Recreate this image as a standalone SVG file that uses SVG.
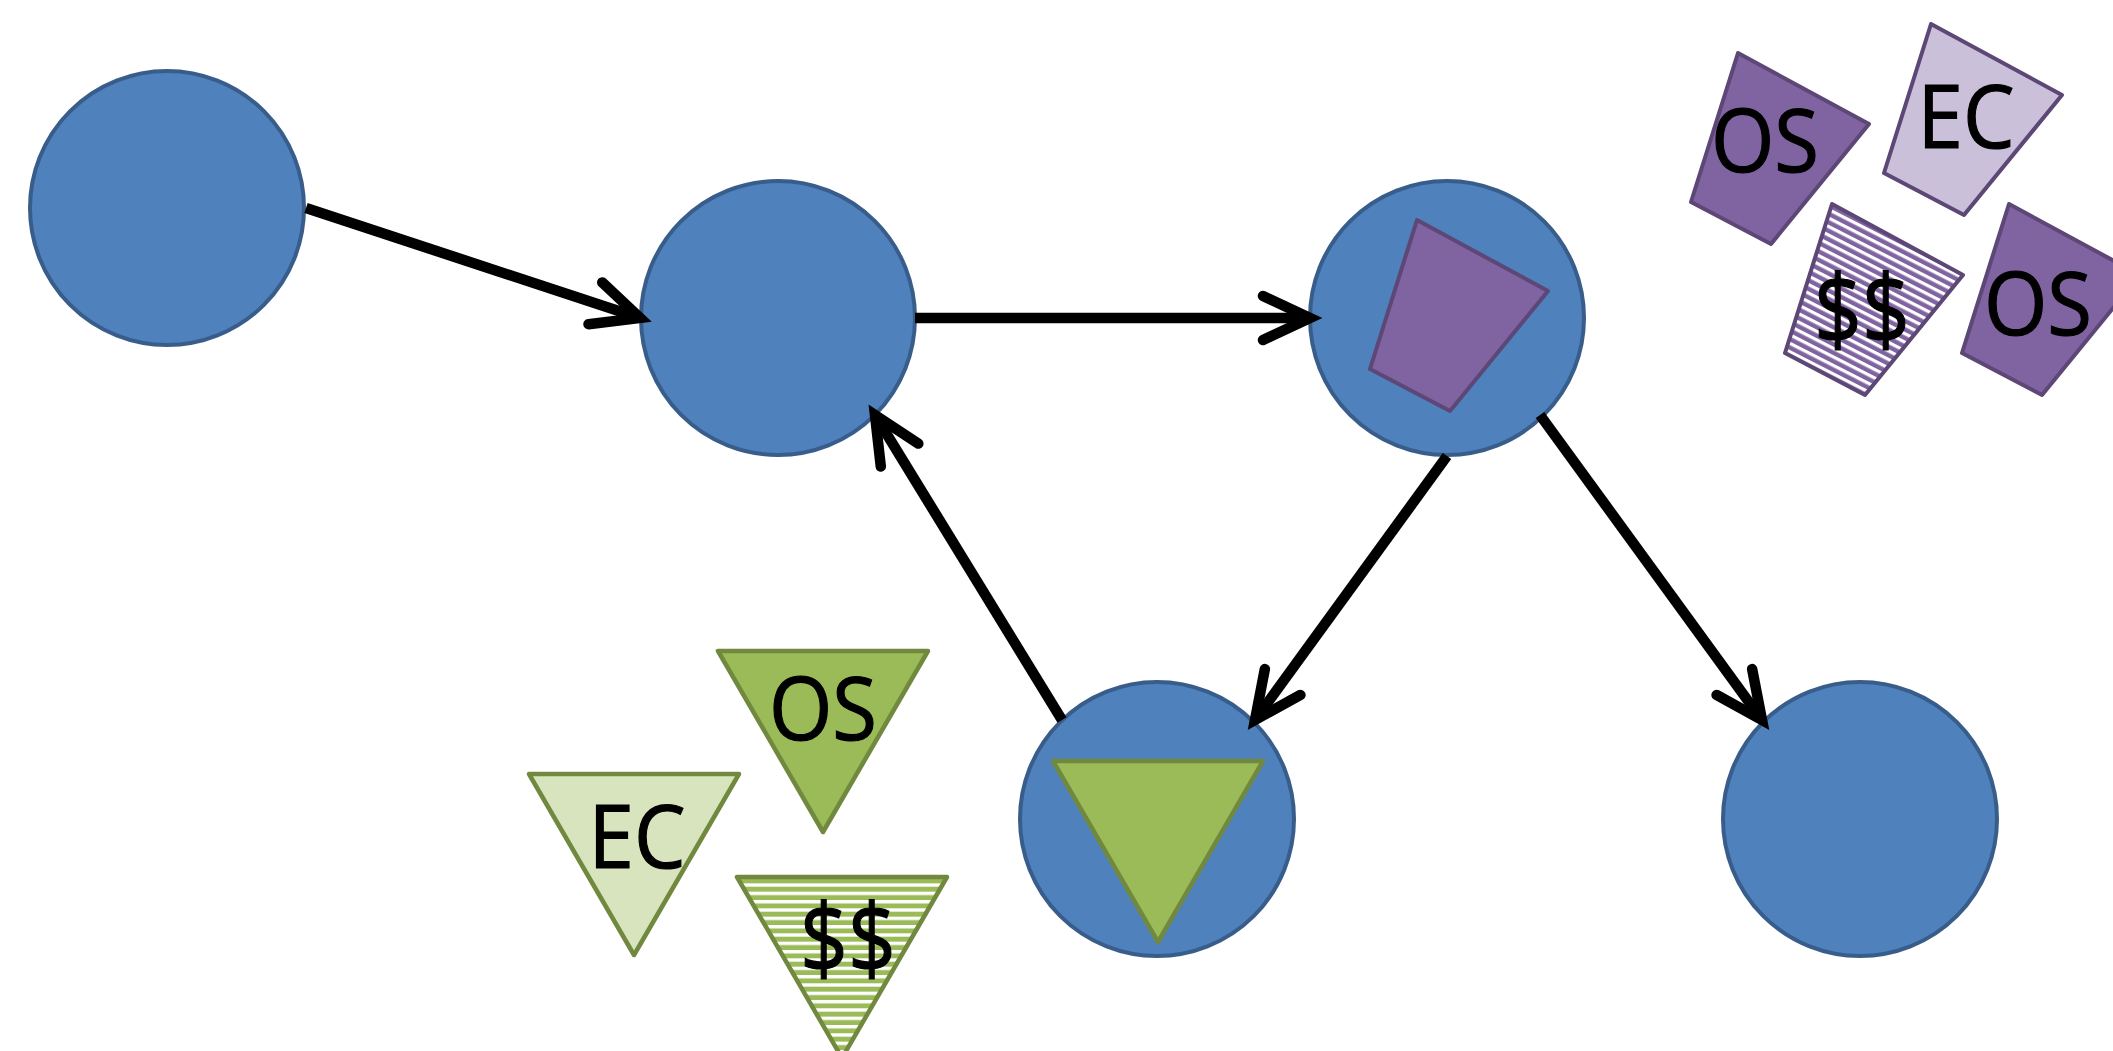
<svg xmlns="http://www.w3.org/2000/svg" xmlns:xlink="http://www.w3.org/1999/xlink" width="2113" height="1051" viewBox="0 0 2113 1051">
  <style>
    .state { fill: #4F81BD; stroke: #385D8A; stroke-width: 4; }
    .quad { stroke: #5C4776; stroke-width: 4; stroke-linejoin: round; }
    .q-dark { fill: #8064A2; }
    .q-light { fill: #CBC0D9; }
    .q-stripe { fill: url(#stripesPurple); }
    .tri { stroke: #71893F; stroke-width: 4.5; stroke-linejoin: round; }
    .t-dark { fill: #9BBB59; }
    .t-light { fill: #D7E4BD; }
    .t-stripe { fill: url(#stripesGreen); }
    .label { font-family: "Open Sans", "Liberation Sans", sans-serif; font-size: 88px; fill: #000; stroke: #000; stroke-width: 1.2; text-anchor: middle; }
    .cost { font-size: 97px; }
    .edge { fill: none; stroke: #000; stroke-width: 10.5; marker-end: url(#openArrow); }
  </style>
  <defs>
    <!-- open chevron arrowhead -->
    <marker id="openArrow" markerUnits="userSpaceOnUse" orient="auto" refX="0" refY="0" markerWidth="1" markerHeight="1" overflow="visible">
      <path d="M -47 -22 L 0 0 L -47 22" fill="none" stroke="#000" stroke-width="10.5" stroke-linecap="round" stroke-linejoin="miter" stroke-miterlimit="10"/>
    </marker>
    <!-- narrow horizontal stripe fills -->
    <pattern id="stripesGreen" patternUnits="userSpaceOnUse" x="0" y="881" width="20" height="8.33">
      <rect x="0" y="0" width="20" height="8.33" fill="#9BBB59"/>
      <rect x="0" y="0" width="20" height="3.4" fill="#FFFFFF"/>
    </pattern>
    <pattern id="stripesPurple" patternUnits="userSpaceOnUse" width="20" height="7.6" patternTransform="rotate(27 1832 204)">
      <rect x="0" y="0" width="20" height="7.6" fill="#8064A2"/>
      <rect x="0" y="0" width="20" height="3.2" fill="#FFFFFF"/>
    </pattern>
    <!-- shared outlines, positioned by x/y on each use -->
    <polygon id="quadShape" points="0,0 131,71 33,191 -47,149"/>
    <polygon id="triShape" points="0,0 210,0 105,181"/>
  </defs>

  <!-- state circles -->
  <g id="node-a"><circle class="state" cx="167" cy="208" r="137"/></g>
  <g id="node-b"><circle class="state" cx="778" cy="318" r="137"/></g>
  <g id="node-c">
    <circle class="state" cx="1447" cy="318" r="137"/>
    <use xlink:href="#quadShape" class="quad q-dark" x="1417" y="220"/>
  </g>
  <g id="node-d">
    <circle class="state" cx="1157" cy="819" r="137"/>
    <use xlink:href="#triShape" class="tri t-dark" x="1053" y="761"/>
  </g>
  <g id="node-e"><circle class="state" cx="1860" cy="819" r="137"/></g>

  <!-- purple tokens -->
  <g id="token-purple-os-1">
    <use xlink:href="#quadShape" class="quad q-dark" x="1738" y="53"/>
    <text class="label" x="1765" y="172" textLength="108" lengthAdjust="spacingAndGlyphs">OS</text>
  </g>
  <g id="token-purple-ec">
    <use xlink:href="#quadShape" class="quad q-light" x="1931" y="24"/>
    <text class="label" x="1966" y="148" textLength="97" lengthAdjust="spacingAndGlyphs">EC</text>
  </g>
  <g id="token-purple-cost">
    <use xlink:href="#quadShape" class="quad q-stripe" x="1832" y="204"/>
    <text class="label cost" x="1862" y="344" textLength="96" lengthAdjust="spacingAndGlyphs">$$</text>
  </g>
  <g id="token-purple-os-2">
    <use xlink:href="#quadShape" class="quad q-dark" x="2009" y="204"/>
    <text class="label" x="2038" y="335" textLength="108" lengthAdjust="spacingAndGlyphs">OS</text>
  </g>

  <!-- green tokens -->
  <g id="token-green-os">
    <use xlink:href="#triShape" class="tri t-dark" x="718" y="651"/>
    <text class="label" x="823" y="740" textLength="108" lengthAdjust="spacingAndGlyphs">OS</text>
  </g>
  <g id="token-green-ec">
    <use xlink:href="#triShape" class="tri t-light" x="529" y="774"/>
    <text class="label" x="637" y="868" textLength="97" lengthAdjust="spacingAndGlyphs">EC</text>
  </g>
  <g id="token-green-cost">
    <use xlink:href="#triShape" class="tri t-stripe" x="737" y="877"/>
    <text class="label cost" x="848" y="973" textLength="96" lengthAdjust="spacingAndGlyphs">$$</text>
  </g>

  <!-- transitions -->
  <g id="connectors">
    <line class="edge" x1="306" y1="208" x2="640" y2="318"/>
    <line class="edge" x1="915" y1="318" x2="1310" y2="318"/>
    <line class="edge" x1="1447" y1="456" x2="1255" y2="720"/>
    <line class="edge" x1="1540" y1="415" x2="1762" y2="720"/>
    <line class="edge" x1="1062" y1="720" x2="875" y2="415"/>
  </g>
</svg>
